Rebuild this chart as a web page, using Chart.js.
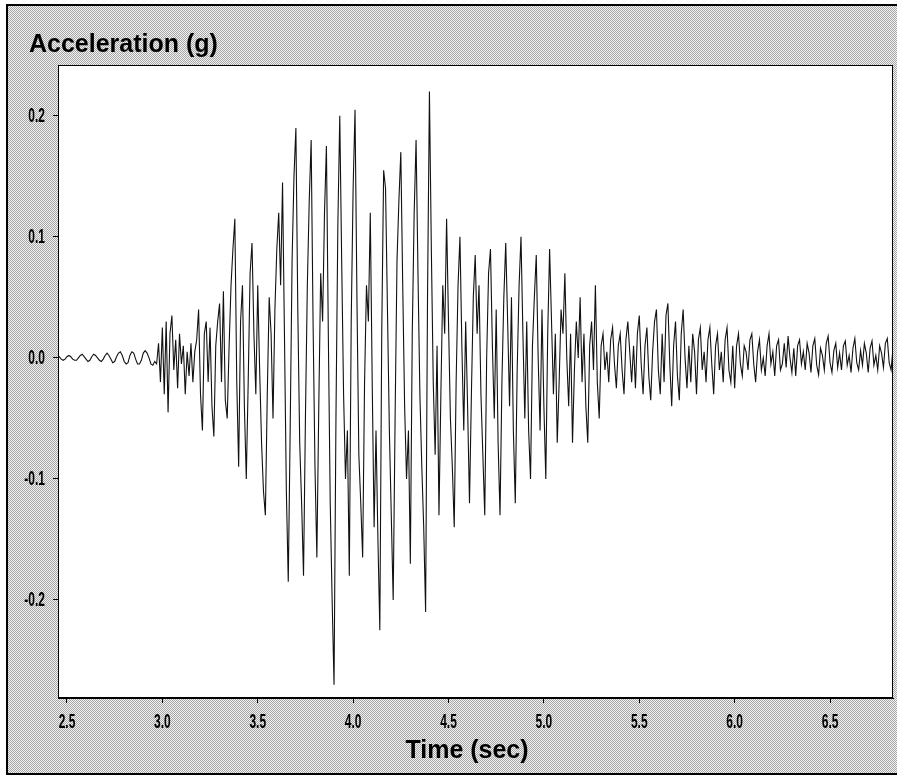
<!DOCTYPE html>
<html>
<head>
<meta charset="utf-8">
<script src="https://cdn.jsdelivr.net/npm/chart.js@4.4.1/dist/chart.umd.min.js"></script>
<style>
  html, body { margin: 0; padding: 0; background: #ffffff; }
  #wrap { width: 897px; height: 776px; }
</style>
</head>
<body>
<div id="wrap"><canvas id="c" width="897" height="776"></canvas></div>
<script>
// ---- Data (acceleration in g, sampled every 0.01 s) ----
const SAMPLE_DT = 0.01;
const titleText = 'Acceleration (g)';
const xAxisTitle = 'Time (sec)';
const xTickValues = [2.5, 3.0, 3.5, 4.0, 4.5, 5.0, 5.5, 6.0, 6.5];
const yTickValues = [-0.2, -0.1, 0.0, 0.1, 0.2];

const preEventStart = 2.45;
const preEvent = [0.000, 0.001, -0.001, -0.002, -0.001, 0.001, 0.002, 0.001, -0.001, -0.002,
  -0.002, 0.000, 0.002, 0.003, 0.001, -0.001, -0.003, -0.002, 0.001, 0.003,
  0.002, 0.000, -0.002, -0.003, -0.001, 0.002, 0.004, 0.002, -0.001, -0.004,
  -0.003, 0.001, 0.004, 0.005, 0.002, -0.003, -0.005, -0.004, 0.002, 0.005,
  0.004, -0.001, -0.005, -0.005, -0.002, 0.004, 0.006, 0.004, 0.000, -0.005,
  -0.006, -0.003];

const onsetStart = 2.97;
const onset = [-0.005, 0.012, -0.02, 0.025, -0.03, 0.03, -0.045, 0.02, 0.035, -0.01,
  0.015, -0.025, 0.02, -0.005, 0.01, -0.03, 0.005, -0.015, 0.012, -0.02,
  0.005, 0.015, 0.04, -0.03, -0.06, 0.02, 0.03, -0.02, 0.025, -0.04,
  -0.065, 0.01, 0.03];

const buildUpStart = 3.30;
const buildUp = [0.045, -0.02, 0.055, -0.035, -0.05, 0.01, 0.06, 0.09, 0.115, -0.02,
  -0.09, 0.03, 0.06, -0.04, -0.10, -0.02, 0.07, 0.095, 0.02, -0.03,
  0.06, -0.01, -0.07, -0.11, -0.13, -0.03, 0.05, 0.02, -0.05, 0.04];

const strongAStart = 3.60;
const strongA = [0.09, 0.12, 0.06, 0.145, 0.02, -0.11, -0.185, -0.06, 0.08, 0.15,
  0.19, 0.04, -0.07, -0.12, -0.18, -0.05, 0.06, 0.13, 0.18, 0.03,
  -0.09, -0.165, -0.04, 0.07, 0.03, 0.12, 0.175, 0.02, -0.12, -0.20,
  -0.27, -0.05, 0.11, 0.20, 0.08, -0.03, -0.10, -0.06, -0.18, 0.03];

const strongBStart = 4.00;
const strongB = [0.14, 0.205, 0.05, -0.08, -0.12, -0.165, -0.02, 0.06, 0.03, 0.12,
  -0.02, -0.14, -0.06, -0.15, -0.225, 0.02, 0.155, 0.14, 0.04, -0.06,
  -0.13, -0.20, -0.05, 0.08, 0.13, 0.17, 0.06, -0.04, -0.10, -0.06,
  -0.17, 0.02, 0.12, 0.18, 0.07, -0.03, -0.09, -0.14, -0.21, 0.05,
  0.22, 0.09, -0.02, -0.08, 0.01, -0.13, -0.03, 0.06, 0.02, 0.115];

const decayAStart = 4.50;
const decayA = [0.03, -0.05, -0.09, -0.14, -0.02, 0.06, 0.10, 0.01, -0.06, 0.03,
  -0.04, -0.12, -0.03, 0.05, 0.085, 0.02, 0.06, -0.03, -0.08, -0.13,
  0.00, 0.07, 0.09, 0.01, -0.05, 0.04, -0.07, -0.13, -0.02, 0.05,
  0.095, 0.03, -0.04, 0.05, -0.06, -0.12, -0.01, 0.06, 0.10, 0.02,
  -0.05, 0.03, -0.06, -0.10, 0.01, 0.05, 0.085, 0.00, -0.06, 0.04];

const decayBStart = 5.00;
const decayB = [-0.04, -0.10, 0.02, 0.09, 0.03, -0.03, 0.02, -0.07, -0.02, 0.04,
  0.02, 0.07, 0.00, -0.04, 0.02, -0.07, -0.01, 0.03, 0.00, 0.05,
  -0.02, 0.02, -0.04, -0.07, 0.01, 0.03, -0.01, 0.06, -0.02, -0.05];

const codaAStart = 5.30;
const codaA = [0.01, 0.02, -0.01, 0.005, -0.02, 0.015, 0.025, -0.005, -0.025, 0.01,
  0.02, -0.01, -0.03, 0.015, 0.03, 0.005, -0.02, 0.01, -0.025, 0.02,
  0.035, -0.005, -0.03, 0.01, 0.025, -0.015, -0.035, 0.005, 0.03, 0.04,
  -0.01, -0.03, 0.02, -0.02, 0.035, 0.045, -0.005, -0.04, 0.01, 0.03,
  -0.015, -0.035, 0.02, 0.04, 0.00, -0.025, 0.01, -0.02, 0.02, 0.005,
  -0.03, 0.015, 0.025, -0.01, 0.005, -0.02, 0.015, 0.025, -0.005, -0.03,
  0.01, 0.02, -0.01, 0.005, -0.02, 0.015, 0.025, -0.01, -0.02, 0.01];

const codaBStart = 6.00;
const codaB = [-0.025, 0.01, 0.02, -0.005, -0.015, 0.01, 0.005, -0.01, 0.015, 0.02,
  -0.005, -0.02, 0.005, 0.015, -0.01, 0.0, -0.015, 0.01, 0.02, -0.005,
  0.005, -0.015, 0.01, 0.015, -0.01, -0.005, 0.012, -0.008, 0.018, 0.0,
  -0.012, 0.008, -0.015, 0.01, 0.015, -0.005, 0.005, -0.01, 0.012, 0.004,
  -0.012, 0.01, 0.016, -0.006, -0.014, 0.008, 0.002, -0.01, 0.012, 0.018,
  -0.004, -0.012, 0.006, 0.012, -0.008, 0.004, -0.01, 0.01, 0.014, -0.006,
  0.002, -0.012, 0.008, 0.016, -0.004, -0.01, 0.006, -0.006, 0.012, 0.004,
  -0.012, 0.008, 0.014, -0.006, 0.002, -0.01, 0.01, 0.004, -0.008, 0.012,
  0.016, -0.004, -0.01, 0.008, 0.002];

// ---- Build the point list on the sampling grid ----
function segment(start, values) {
  return values.map((v, i) => ({ x: Math.round((start + i * SAMPLE_DT) * 100) / 100, y: v }));
}
const points = [].concat(
  segment(preEventStart, preEvent),
  segment(onsetStart, onset),
  segment(buildUpStart, buildUp),
  segment(strongAStart, strongA),
  segment(strongBStart, strongB),
  segment(decayAStart, decayA),
  segment(decayBStart, decayB),
  segment(codaAStart, codaA),
  segment(codaBStart, codaB)
);

// ---- Styling helpers ----
const BOLD_FONT = "'Liberation Sans', Arial, Helvetica, sans-serif";
const NARROW = 0.6;      // horizontal squeeze for the condensed tick labels
const TICK_PX = 20;

function makeDither() {
  const p = document.createElement('canvas');
  p.width = 4; p.height = 4;
  const g = p.getContext('2d');
  g.fillStyle = '#f2f2f2';
  g.fillRect(0, 0, 4, 4);
  g.fillStyle = '#a6a6a6';
  for (let yy = 0; yy < 4; yy++) {
    for (let xx = 0; xx < 4; xx++) {
      if ((xx + yy) % 2 === 0) g.fillRect(xx, yy, 1, 1);
    }
  }
  return p;
}

function narrowText(ctx, text, x, y, align) {
  ctx.save();
  ctx.translate(x, y);
  ctx.scale(NARROW, 1);
  ctx.textAlign = align;
  ctx.fillText(text, 0, 0);
  ctx.restore();
}

const framePlugin = {
  id: 'framePlugin',
  beforeDraw(chart) {
    const ctx = chart.ctx;
    const W = chart.width, H = chart.height;
    const ca = chart.chartArea;
    ctx.save();
    ctx.fillStyle = '#ffffff';
    ctx.fillRect(0, 0, W, H);
    ctx.fillStyle = ctx.createPattern(makeDither(), 'repeat');
    ctx.fillRect(7, 5, W - 7, 769);
    ctx.strokeStyle = '#000000';
    ctx.lineWidth = 2;
    ctx.beginPath();
    ctx.moveTo(W + 2, 5); ctx.lineTo(7, 5); ctx.lineTo(7, 774); ctx.lineTo(W + 2, 774);
    ctx.stroke();
    ctx.fillStyle = '#ffffff';
    ctx.fillRect(ca.left, ca.top, ca.right - ca.left, ca.bottom - ca.top);
    ctx.restore();
  },
  afterDraw(chart) {
    const ctx = chart.ctx;
    const ca = chart.chartArea;
    const xs = chart.scales.x, ys = chart.scales.y;
    ctx.save();
    ctx.strokeStyle = '#000000';
    ctx.lineWidth = 1;
    ctx.strokeRect(ca.left + 0.5, ca.top + 0.5, ca.right - ca.left - 1, ca.bottom - ca.top - 1);

    // condensed bold tick labels, placed through the chart scales
    ctx.fillStyle = '#000000';
    ctx.font = 'bold ' + TICK_PX + 'px ' + BOLD_FONT;
    ctx.textBaseline = 'middle';
    xTickValues.forEach(v => narrowText(ctx, v.toFixed(1), xs.getPixelForValue(v), 722, 'center'));
    yTickValues.forEach(v => narrowText(ctx, v.toFixed(1), 45, ys.getPixelForValue(v) + 1, 'right'));

    // titles
    ctx.textBaseline = 'alphabetic';
    ctx.font = 'bold 25px ' + BOLD_FONT;
    ctx.textAlign = 'left';
    ctx.fillText(titleText, 29, 52);
    ctx.textAlign = 'center';
    ctx.fillText(xAxisTitle, 467, 758);
    ctx.restore();
  }
};

new Chart(document.getElementById('c'), {
  type: 'line',
  data: {
    datasets: [{
      data: points,
      borderColor: '#111111',
      borderWidth: 1.1,
      pointRadius: 0,
      tension: 0,
      fill: false
    }]
  },
  options: {
    responsive: false,
    animation: false,
    devicePixelRatio: 1,
    layout: { padding: { left: 0, right: 4, top: 65, bottom: 0 } },
    plugins: { legend: { display: false }, tooltip: { enabled: false }, title: { display: false } },
    scales: {
      x: {
        type: 'linear',
        min: 2.453,
        max: 6.83,
        afterBuildTicks(scale) { scale.ticks = xTickValues.map(v => ({ value: v })); },
        afterFit(scale) { scale.height = 78; },
        grid: { display: true, drawOnChartArea: false, drawTicks: true, tickLength: 5, color: '#000000' },
        border: { display: true, color: '#000000', width: 1 },
        ticks: { display: false, autoSkip: false }
      },
      y: {
        type: 'linear',
        min: -0.281,
        max: 0.242,
        afterBuildTicks(scale) { scale.ticks = yTickValues.map(v => ({ value: v })); },
        afterFit(scale) { scale.width = 58; },
        grid: { display: true, drawOnChartArea: false, drawTicks: true, tickLength: 5, color: '#000000' },
        border: { display: true, color: '#000000', width: 1 },
        ticks: { display: false, autoSkip: false }
      }
    }
  },
  plugins: [framePlugin]
});
</script>
</body>
</html>
